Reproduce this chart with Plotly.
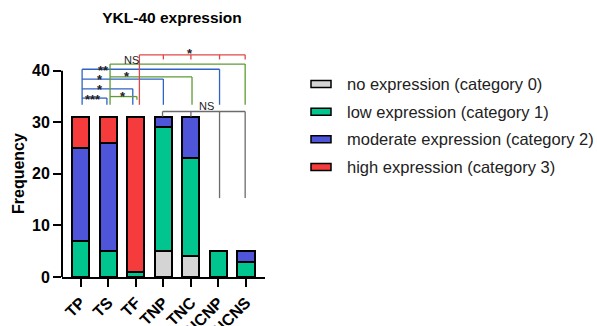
import plotly.graph_objects as go

# ---------------- data ----------------
groups = ["TP", "TS", "TF", "TNP", "TNC", "NCNP", "NCNS"]
no_expr = [0, 0, 0, 5, 4, 0, 0]
low_expr = [7, 5, 1, 24, 19, 5, 3]
moderate_expr = [18, 21, 0, 2, 8, 0, 2]
high_expr = [6, 5, 30, 0, 0, 0, 0]

series_names = ["no expression (category 0)", "low expression (category 1)",
                "moderate expression (category 2)", "high expression (category 3)"]
series_values = [no_expr, low_expr, moderate_expr, high_expr]
series_colors = ["#d4d4d4", "#00c58f", "#4f55d8", "#f53b3b"]

y_ticks = [0, 10, 20, 30, 40]

FONT = "Liberation Sans, Arial, sans-serif"
BLUE, GREEN, RED, GREY = "#2f62c4", "#5e9b35", "#e04848", "#6b6b6b"

# significance brackets: (color, x_left, x_right, level, drop_to)
brackets = [
    (BLUE, 0.05, 0.95, 34.7, 33.4),
    (BLUE, 0.05, 1.89, 36.5, 33.4),
    (BLUE, 0.05, 3.00, 38.4, 33.4),
    (BLUE, 0.05, 5.04, 40.3, 33.4),
    (GREEN, 1.065, 2.04, 35.0, 34.4),
    (GREEN, 1.065, 4.04, 38.8, 33.4),
    (GREEN, 1.065, 5.97, 41.3, 33.4),
]
# (text, x, y)
bracket_labels = [
    ("***", 0.46, 35.1), ("*", 0.70, 37.0), ("*", 0.70, 38.8), ("**", 0.82, 40.6),
    ("*", 1.53, 35.6), ("*", 1.67, 39.4), ("NS", 1.83, 42.1),
    ("*", 3.97, 43.9), ("NS", 4.58, 33.2),
]

xs = list(range(len(groups)))

fig = go.Figure()
for name, vals, col in zip(series_names, series_values, series_colors):
    fig.add_trace(go.Bar(
        x=xs, y=[v if v else None for v in vals], name=name,
        width=0.62, marker=dict(color=col, line=dict(color="black", width=2)),
        showlegend=False,
    ))

shapes = []

def seg(x0, y0, x1, y1, color, w=1.3):
    shapes.append(dict(type="line", xref="x", yref="y", x0=x0, y0=y0, x1=x1, y1=y1,
                       line=dict(color=color, width=w)))

# bracket lines
left_tops = {}
for col, xl, xr, lvl, drop in brackets:
    seg(xl, lvl, xr, lvl, col)
    seg(xr, lvl, xr, drop, col)
    left_tops[(col, xl)] = max(left_tops.get((col, xl), 0), lvl)
for (col, xl), top in left_tops.items():
    seg(xl, 33.4, xl, top, col)

# red multi-bracket
seg(2.13, 33.4, 2.13, 43.1, RED)
seg(2.13, 43.1, 5.97, 43.1, RED)
for xt in [3.0, 4.0, 5.04, 5.97]:
    seg(xt, 43.1, xt, 42.2, RED)

# grey multi-bracket
seg(2.97, 32.1, 5.97, 32.1, GREY)
for xt in [2.97, 4.0]:
    seg(xt, 32.1, xt, 31.1, GREY)
for xt in [5.04, 5.97]:
    seg(xt, 32.1, xt, 15.3, GREY)

# y axis line (0 -> 40)
shapes.append(dict(type="line", xref="paper", yref="y", x0=0, x1=0, y0=0, y1=40,
                   line=dict(color="black", width=2)))

annotations = []
for txt, x, y in bracket_labels:
    is_star = "*" in txt
    annotations.append(dict(
        text=txt, x=x, y=y, xref="x", yref="y", showarrow=False,
        xanchor="center", yanchor="middle",
        yshift=-3 if is_star else 0,
        font=dict(family=FONT, size=13 if is_star else 11, color="#222",
                  weight="bold" if is_star else "normal"),
    ))

# y-axis title
annotations.append(dict(text="Frequency", x=-0.217, y=0.448, xref="paper", yref="paper",
                        showarrow=False, textangle=-90, xanchor="center", yanchor="middle",
                        font=dict(family=FONT, size=16, color="black", weight="bold")))

# manual legend
plot_left, plot_w, plot_bottom, plot_h = 62, 203, 277, 232
rows_px = [84, 111.7, 139.3, 167]
for name, col, ry in zip(series_names, series_colors, rows_px):
    shapes.append(dict(type="rect", xref="paper", yref="paper",
                       x0=(311 - plot_left) / plot_w, x1=(331 - plot_left) / plot_w,
                       y0=(plot_bottom - (ry + 3.5)) / plot_h, y1=(plot_bottom - (ry - 3.5)) / plot_h,
                       fillcolor=col, line=dict(color="black", width=1.5)))
    annotations.append(dict(text=name, x=(345 - plot_left) / plot_w,
                            y=(plot_bottom - ry) / plot_h, xref="paper", yref="paper",
                            showarrow=False, xanchor="left", yanchor="middle",
                            font=dict(family=FONT, size=16.5, color="#222")))

fig.update_layout(
    width=597, height=326,
    margin=dict(l=62, r=332, t=45, b=49, autoexpand=False),
    barmode="stack",
    plot_bgcolor="white", paper_bgcolor="white",
    title=dict(text="YKL-40 expression", xref="container", x=172 / 597, xanchor="center",
               yref="container", y=1 - 18 / 326, yanchor="middle",
               font=dict(family=FONT, size=15.5, color="black", weight="bold")),
    xaxis=dict(range=[-0.68, 6.69], tickvals=xs, ticktext=groups, tickangle=-45,
               showline=True, linecolor="black", linewidth=2,
               ticks="outside", ticklen=8, tickwidth=2, tickcolor="black",
               showgrid=False, zeroline=False,
               tickfont=dict(family=FONT, size=16, color="black", weight="bold")),
    yaxis=dict(range=[0, 45], tickvals=y_ticks, showline=False,
               ticks="outside", ticklen=8, tickwidth=2, tickcolor="black",
               showgrid=False, zeroline=False,
               tickfont=dict(family=FONT, size=16, color="black", weight="bold")),
    shapes=shapes, annotations=annotations,
    showlegend=False,
)

fig.write_html("out.html", config={"displayModeBar": False},
               post_script="document.body.style.margin='0';document.body.style.overflow='hidden';")
